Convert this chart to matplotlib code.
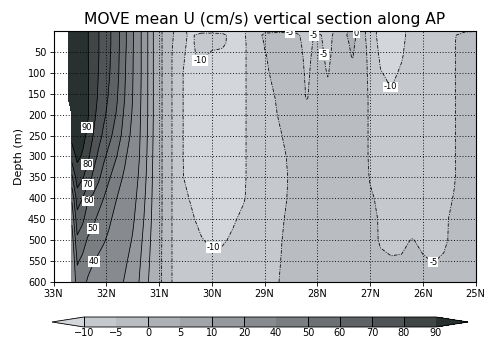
import numpy as np
import matplotlib
matplotlib.use("Agg")
import matplotlib.pyplot as plt
from matplotlib.colors import ListedColormap, BoundaryNorm

# Grid of the section: latitude (deg N) and depth (m)
lats = [32.72, 32.65, 32.55, 32.45, 32.35, 32.25, 32.15, 32.05, 31.95, 31.8,
        31.65, 31.5, 31.35, 31.2, 31.05, 30.9, 30.75, 30.6, 30.4, 30.2,
        30.0, 29.8, 29.6, 29.4, 29.2, 29.0, 28.8, 28.6, 28.4, 28.2,
        28.0, 27.8, 27.6, 27.33, 27.15, 27.0, 26.8, 26.6, 26.4, 26.2,
        26.0, 25.8, 25.6, 25.4, 25.2, 25.0]
depths = [0, 10, 30, 60, 100, 160, 200, 250, 300, 350, 400, 450, 500, 550, 600]

nan = np.nan
# Mean zonal velocity U (cm/s), one list per depth level
u_000 = [96, 100, 102, 97, 90.5, 85, 80.5, 76, 72, 64, 52, 42, 21, 9, 2.5, -1,
         -4, -8.5, -11, -11, -11, -11, -11, -10.5,
         -7.5, -6, -6, -6, -6,
         -7, -6, -6.5, -4, 2, -3.5, -7,
         -12, -13, -11.2, -8, -7, -6.5, -6, -5.5, -5.3, -5.2]
u_010 = [96, 100, 102, 97, 90.5, 85, 80.5, 76, 72, 64, 52, 42, 21, 9, 2.5, -1,
         -4.3, -9, -10.5, -9, -9, -9.3, -11, -10.5,
         -8, -4, -3.5, -3.5, -4,
         -7, -4, -6.5, -3, 2, -3.5, -7,
         -12, -13, -11.2, -8, -7, -7, -6.5, -5.2, -4, -3.8]
u_030 = [96, 100, 102, 97, 90.5, 85, 80.5, 76, 72, 64, 52, 42, 21, 9, 2.5, -1,
         -4.7, -9.3, -10.5, -9, -9.2, -9.5, -11, -10.5,
         -8.5, -4.8, -3.5, -3.2, -3.5,
         -6.5, -3.8, -6.2, -3, 1, -3.5, -6.5,
         -11.5, -12.5, -10.8, -8, -7, -7, -6.5, -5.1, -4, -3.8]
u_060 = [95.5, 99.5, 101.5, 97, 90.5, 85, 80.5, 75.5, 71.5, 63.5, 51.5, 41.5, 21, 9, 2.5, -1,
         -5.1, -9.6, -10.5, -9.5, -10.6, -10.8, -11, -10.5,
         -8.5, -5.3, -3.8, -3, -3.2,
         -6, -3.6, -5.8, -3, 0.3, -3.5, -6,
         -10.8, -11.8, -10.3, -8, -7, -7, -6.5, -5.1, -4, -3.8]
u_100 = [95, 99, 101, 97, 91, 85, 80, 75, 71, 63, 51, 41, 21, 9, 2.5, -1,
         -5.1, -9.6, -11, -11, -11.2, -11.2, -11, -10.5,
         -8.5, -5.8, -4, -3, -3,
         -5.6, -3.5, -5.2, -3, -2, -3.5, -5.8,
         -9.8, -10.8, -9.5, -7.5, -7, -7, -6.5, -5.1, -4, -3.8]
u_160 = [93, 97, 100, 96, 91, 84, 79, 74, 69, 61, 50, 40, 20.5, 9, 2.5, -1,
         -5.1, -9.6, -11, -11, -11.2, -11.2, -11, -10.5,
         -8.5, -6.5, -5, -3.2, -3,
         -5.2, -3.4, -4, -3, -2.5, -3.5, -5.5,
         -8.5, -9.5, -8.5, -7.5, -7, -7, -6.5, -5.1, -4, -3.8]
u_200 = [nan, 96, 98, 95, 91, 83, 77, 72, 67, 59, 48, 39, 20, 9, 2.5, -1,
         -5.1, -9.6, -11, -11, -11.2, -11.2, -11, -10.5,
         -8.5, -7, -5.4, -3.5, -3,
         -3.5, -3.3, -3.5, -3, -2.8, -3.5, -5.5,
         -8, -8.5, -8, -7.5, -7, -7, -6.5, -5.1, -4, -3.8]
u_250 = [nan, 93, 96, 93, 88, 80, 74, 68, 63, 55, 46, 37, 19, 8.5, 2.5, -1,
         -5.1, -9.6, -11, -11, -11.2, -11.2, -11, -10.5,
         -8.5, -7.2, -6, -4.5, -3,
         -3, -3.3, -3, -3, -2.8, -3.5, -5.5,
         -7.5, -8, -8, -7.5, -7, -7, -6.5, -5.1, -4, -3.8]
u_300 = [nan, 85, 92, 89, 82, 75, 68, 62, 57, 50, 42, 33, 18, 8, 2.5, -1,
         -5.1, -9.6, -11, -11, -11.2, -11.2, -11, -10.5,
         -8.5, -7.5, -6.5, -5.1, -3.2,
         -3, -3.3, -3, -3, -2.8, -3.5, -5.5,
         -7.5, -8, -8, -7.5, -7, -7, -6.5, -5.1, -4, -3.8]
u_350 = [nan, 68, 85, 81, 75, 68, 62, 56, 51, 45, 38, 29, 16, 7.5, 2.5, -1,
         -5.1, -9.6, -10.8, -11, -11.2, -11.2, -11, -10.5,
         -8.5, -7.5, -6.5, -5.4, -3.5,
         -3, -3.3, -3, -3, -2.8, -3.5, -5.2,
         -7.5, -8, -8, -7.5, -7, -7, -6.5, -5.1, -4, -3.8]
u_400 = [nan, 52, 75, 70, 61, 58, 54, 50, 46, 40, 33, 25, 14, 7, 2.5, -1,
         -5.1, -9, -10.2, -11, -11.2, -11.2, -10.8, -10.3,
         -8.5, -7.5, -6.5, -5.2, -3.5,
         -3, -3.3, -3, -3, -2.8, -3.5, -4.6,
         -5.6, -8, -8, -7.5, -7, -7, -5.5, -4.9, -4, -3.8]
u_450 = [nan, 42, 66, 62, 55, 52, 48, 45, 42, 36, 29, 22, 12.5, 6.5, 2.5, -1,
         -5.1, -8.5, -9.5, -10.8, -11.2, -11.2, -10.4, -9.3,
         -8.5, -7.5, -6.3, -4.8, -3.5,
         -3, -3.3, -3, -3, -2.8, -3.3, -4.2,
         -5.3, -7, -7, -6.5, -6.5, -6.5, -5.3, -4.6, -4, -3.8]
u_500 = [nan, 35, 58, 54, 49, 47, 44, 41, 38, 32, 26, 19, 11, 6, 2.2, -1,
         -5.1, -8.2, -9.2, -9.8, -10.6, -10.4, -9.5, -9,
         -8, -7, -6, -4.5, -3.5,
         -3, -3.3, -3, -3, -2.8, -3.2, -4,
         -5.3, -5.6, -5.4, -4.9, -5.4, -5.5, -5.3, -4.5, -4, -3.8]
u_550 = [nan, 30, 51, 48, 43, 40.5, 38, 36, 33, 28, 22, 16, 10, 5.5, 2, -1,
         -5.1, -8, -9, -9, -9, -9, -9, -8.5,
         -8, -7, -5.8, -4.3, -3.5,
         -3, -3.3, -3, -3, -2.8, -3, -3.8,
         -4.5, -4.8, -4.8, -4.5, -4.8, -5.05, -4.8, -4, -4, -3.8]
u_600 = [nan, 27, 46, 43, 39, 37, 35, 33, 30, 25, 19, 14, 9, 5, 2, -1,
         -5.1, -7.8, -8.5, -8.5, -8.5, -8.5, -8.5, -8.5,
         -8, -7, -5.6, -4, -3.5,
         -3, -3.3, -3, -3, -2.8, -3, -3.7,
         -4, -4, -4, -4, -4, -4, -4, -4, -4, -3.8]

levels = [-10, -5, 0, 5, 10, 20, 40, 50, 60, 70, 80, 90]
shades = ["#d3d6db", "#c5c9ce", "#b9bdc2", "#adb1b6", "#a1a5aa", "#95999d",
          "#878b8f", "#7a7e81", "#6c7073", "#5e6265", "#505457", "#404546",
          "#283030"]
lat_ticks = [33, 32, 31, 30, 29, 28, 27, 26, 25]
lat_labels = ["33N", "32N", "31N", "30N", "29N", "28N", "27N", "26N", "25N"]
depth_ticks = list(range(50, 601, 50))

U = np.array([u_000, u_010, u_030, u_060, u_100, u_160, u_200, u_250,
              u_300, u_350, u_400, u_450, u_500, u_550, u_600], dtype=float)
U = np.ma.masked_invalid(U)

cmap = ListedColormap(shades[1:-1])
cmap.set_under(shades[0])
cmap.set_over(shades[-1])
norm = BoundaryNorm(levels, cmap.N)

fig = plt.figure(figsize=(4.86, 3.38), dpi=100)
ax = fig.add_axes([53.5 / 486, 56 / 338, 422 / 486, 251 / 338])

cf = ax.contourf(lats, depths, U, levels=levels, cmap=cmap, norm=norm,
                 extend="both")

dash = (0, (4.5, 1.8, 1.2, 1.8))
neg_levels = [l for l in levels if l <= 0]
pos_levels = [l for l in levels if l > 0]
cneg = ax.contour(lats, depths, U, levels=neg_levels, colors="black",
                  linewidths=0.55, linestyles=[dash] * len(neg_levels))
cpos = ax.contour(lats, depths, U, levels=pos_levels, colors="black",
                  linewidths=0.55, linestyles="solid")

label_style = dict(fontsize=6, inline=False, fmt="%d", colors="black")
pos_spots = [(32.37, 230), (32.37, 318), (32.37, 366), (32.37, 404),
             (32.27, 471), (32.27, 550)]
neg_spots = [(30.22, 70), (29.97, 520), (26.66, 137), (28.52, 5),
             (28.12, 10), (27.93, 57), (25.81, 555), (27.34, 5)]
texts = list(ax.clabel(cpos, manual=pos_spots, **label_style))
texts += list(ax.clabel(cneg, manual=neg_spots, **label_style))
for t in texts:
    t.set_rotation(0)
    t.set_bbox(dict(facecolor="white", edgecolor="none", pad=0.6))

ax.set_xlim(33, 25)
ax.set_ylim(600, 0)
ax.set_xticks(lat_ticks)
ax.set_xticklabels(lat_labels)
ax.set_yticks(depth_ticks)
ax.tick_params(axis="both", labelsize=7, length=3, width=0.6, pad=2,
               direction="out")
ax.grid(True, color="black", linestyle=(0, (1.2, 2.2)), linewidth=0.6)
ax.set_axisbelow(False)
for s in ax.spines.values():
    s.set_linewidth(0.8)

ax.set_ylabel("Depth (m)", fontsize=8, labelpad=3)
ax.set_title("MOVE mean U (cm/s) vertical section along AP", fontsize=11.2,
             pad=5)

cax = fig.add_axes([52 / 486, 11 / 338, 416 / 486, 10 / 338])
cb = fig.colorbar(cf, cax=cax, orientation="horizontal",
                  extendfrac=32 / 351, ticks=levels)
cb.outline.set_linewidth(0.6)
cb.ax.tick_params(length=0, labelsize=7, pad=1)
for v in [-10, 0, 10, 20, 50, 60, 70, 80, 90]:
    cax.axvline(v, color="black", linewidth=0.7)

fig.savefig("out.png", dpi=100)
